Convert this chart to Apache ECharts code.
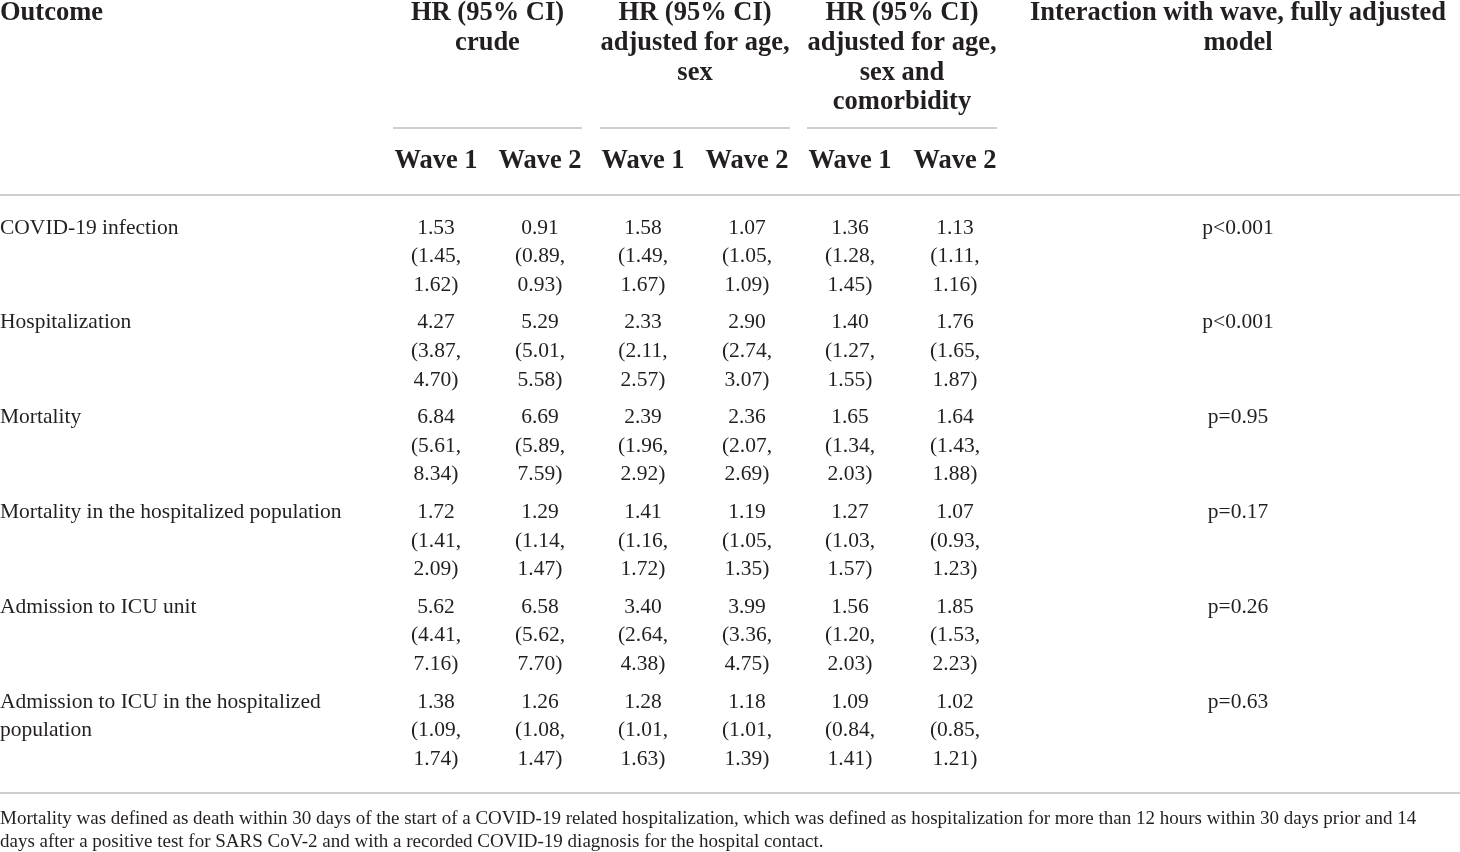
<!DOCTYPE html>
<html>
<head>
<meta charset="utf-8">
<script src="https://cdn.jsdelivr.net/npm/echarts@6/dist/echarts.min.js"></script>
<style>
html, body { margin: 0; padding: 0; background: #fff; }
#main { width: 1460px; height: 852px; }
</style>
</head>
<body>
<div id="main"></div>
<script>
// table content
var outcomes = [
    'COVID-19 infection',
    'Hospitalization',
    'Mortality',
    'Mortality in the hospitalized population',
    'Admission to ICU unit',
    'Admission to ICU in the hospitalized population'
];
// [HR, lower, upper] per outcome
var crudeWave1 = [[1.53, 1.45, 1.62], [4.27, 3.87, 4.70], [6.84, 5.61, 8.34], [1.72, 1.41, 2.09], [5.62, 4.41, 7.16], [1.38, 1.09, 1.74]];
var crudeWave2 = [[0.91, 0.89, 0.93], [5.29, 5.01, 5.58], [6.69, 5.89, 7.59], [1.29, 1.14, 1.47], [6.58, 5.62, 7.70], [1.26, 1.08, 1.47]];
var ageSexWave1 = [[1.58, 1.49, 1.67], [2.33, 2.11, 2.57], [2.39, 1.96, 2.92], [1.41, 1.16, 1.72], [3.40, 2.64, 4.38], [1.28, 1.01, 1.63]];
var ageSexWave2 = [[1.07, 1.05, 1.09], [2.90, 2.74, 3.07], [2.36, 2.07, 2.69], [1.19, 1.05, 1.35], [3.99, 3.36, 4.75], [1.18, 1.01, 1.39]];
var fullWave1 = [[1.36, 1.28, 1.45], [1.40, 1.27, 1.55], [1.65, 1.34, 2.03], [1.27, 1.03, 1.57], [1.56, 1.20, 2.03], [1.09, 0.84, 1.41]];
var fullWave2 = [[1.13, 1.11, 1.16], [1.76, 1.65, 1.87], [1.64, 1.43, 1.88], [1.07, 0.93, 1.23], [1.85, 1.53, 2.23], [1.02, 0.85, 1.21]];
var pValues = ['p<0.001', 'p<0.001', 'p=0.95', 'p=0.17', 'p=0.26', 'p=0.63'];

var outcomeHeader = 'Outcome';
var modelHeaders = ['HR (95% CI)\ncrude', 'HR (95% CI)\nadjusted for age,\nsex', 'HR (95% CI)\nadjusted for age,\nsex and\ncomorbidity'];
var interactionHeader = 'Interaction with wave, fully adjusted\nmodel';
var waveLabels = ['Wave 1', 'Wave 2'];
var footnote = [
    'Mortality was defined as death within 30 days of the start of a COVID-19 related hospitalization, which was defined as hospitalization for more than 12 hours within 30 days prior and 14',
    'days after a positive test for SARS CoV-2 and with a recorded COVID-19 diagnosis for the hospital contact.'
];

// layout (pixel units of the hidden axes)
var layout = {
    width: 1460,
    height: 852,
    waveX: [436, 540, 643, 747, 850, 955],
    groupX: [[393, 582], [600, 790], [807, 997]],
    pX: 1238,
    headY: 13.5,
    headLine: 29.6,
    waveY: 161.5,
    ruleY: 195,
    bottomRuleY: 793,
    groupRuleY: 128,
    rowY: 228,
    rowStep: 94.8,
    rowLine: 28.6,
    noteY: 819,
    noteLine: 23
};
var ink = '#231f20';
var ruleColor = '#cfcfcf';
var serif = 'Liberation Serif';

function fmt(v) {
    return v[0].toFixed(2) + '\n(' + v[1].toFixed(2) + ',\n' + v[2].toFixed(2) + ')';
}

var cells = [];
function addCell(x, y, text, opt) {
    opt = opt || {};
    cells.push({
        x: x, y: y, text: text,
        align: opt.align || 'center',
        bold: !!opt.bold,
        size: opt.size || 21.5,
        lh: opt.lh || layout.rowLine,
        width: opt.width
    });
}

// header
addCell(0, layout.headY, outcomeHeader, {align: 'left', bold: true, size: 26.5, lh: layout.headLine});
modelHeaders.forEach(function (h, i) {
    var g = layout.groupX[i];
    addCell((g[0] + g[1]) / 2, layout.headY, h, {bold: true, size: 26.5, lh: layout.headLine});
});
addCell(layout.pX, layout.headY, interactionHeader, {bold: true, size: 26.5, lh: layout.headLine});
layout.waveX.forEach(function (x, i) {
    addCell(x, layout.waveY, waveLabels[i % 2], {bold: true, size: 26.5, lh: layout.headLine});
});

// body
var hrColumns = [crudeWave1, crudeWave2, ageSexWave1, ageSexWave2, fullWave1, fullWave2];
outcomes.forEach(function (name, r) {
    var y = layout.rowY + r * layout.rowStep;
    addCell(0, y, name, {align: 'left', width: 360});
    hrColumns.forEach(function (col, c) {
        addCell(layout.waveX[c], y, fmt(col[r]));
    });
    addCell(layout.pX, y, pValues[r]);
});

// footnote
addCell(0, layout.noteY, footnote.join('\n'), {align: 'left', size: 19, lh: layout.noteLine});

// rules: [x1, y, x2]
var rules = [];
layout.groupX.forEach(function (g) {
    rules.push([g[0], layout.groupRuleY, g[1]]);
});
rules.push([0, layout.ruleY, layout.width]);
rules.push([0, layout.bottomRuleY, layout.width]);

var chart = echarts.init(document.getElementById('main'), null, {renderer: 'canvas'});
var option = {
    animation: false,
    backgroundColor: '#ffffff',
    grid: {left: 0, right: 0, top: 0, bottom: 0},
    xAxis: {type: 'value', min: 0, max: layout.width, show: false},
    yAxis: {type: 'value', min: 0, max: layout.height, inverse: true, show: false},
    series: [{
        type: 'custom',
        clip: false,
        data: rules,
        renderItem: function (params, api) {
            var a = api.coord([api.value(0), api.value(1)]);
            var b = api.coord([api.value(2), api.value(1)]);
            return {
                type: 'line',
                shape: {x1: a[0], y1: a[1], x2: b[0], y2: b[1]},
                style: {stroke: ruleColor, lineWidth: 2}
            };
        }
    }, {
        type: 'custom',
        clip: false,
        data: cells.map(function (c) { return [c.x, c.y]; }),
        renderItem: function (params, api) {
            var c = cells[params.dataIndex];
            var p = api.coord([api.value(0), api.value(1)]);
            var style = {
                text: c.text,
                fill: ink,
                fontFamily: serif,
                fontSize: c.size,
                fontWeight: c.bold ? 'bold' : 'normal',
                align: c.align,
                verticalAlign: 'top',
                lineHeight: c.lh
            };
            if (c.width) {
                style.width = c.width;
                style.overflow = 'break';
            }
            return {type: 'text', x: p[0], y: p[1] - c.lh / 2, style: style};
        }
    }]
};
chart.setOption(option);
</script>
</body>
</html>
